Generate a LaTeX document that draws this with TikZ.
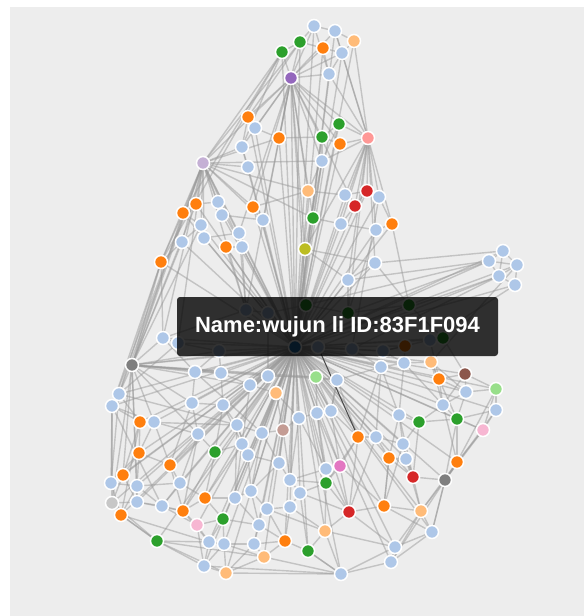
\documentclass[tikz,border=0pt]{standalone}
\usepackage{fontspec}
\setmainfont{Liberation Sans}
\definecolor{lb}{HTML}{AEC7E8}
\definecolor{or}{HTML}{FF7F0E}
\definecolor{lo}{HTML}{FFBB78}
\definecolor{gr}{HTML}{2CA02C}
\definecolor{lg}{HTML}{98DF8A}
\definecolor{rd}{HTML}{D62728}
\definecolor{lr}{HTML}{FF9896}
\definecolor{pu}{HTML}{9467BD}
\definecolor{lv}{HTML}{C5B0D5}
\definecolor{pk}{HTML}{F7B6D2}
\definecolor{mg}{HTML}{E377C2}
\definecolor{br}{HTML}{8C564B}
\definecolor{rb}{HTML}{C49C94}
\definecolor{gy}{HTML}{7F7F7F}
\definecolor{lgy}{HTML}{C7C7C7}
\definecolor{ol}{HTML}{BCBD22}
\definecolor{bl}{HTML}{1F77B4}
\definecolor{canvas}{HTML}{EDEDED}
\definecolor{wire}{HTML}{9A9A9A}
\pgfdeclarelayer{edges}
\pgfsetlayers{edges,main}
\begin{document}
\begin{tikzpicture}
[x=1pt,y=-1pt,
 dot/.style={circle,draw=white,line width=1.5pt,minimum size=13pt,inner sep=0pt},
 link/.style={draw=wire,opacity=0.5,line width=1.4pt}]
\useasboundingbox (0,0) rectangle (584,616);
%% the nodes
\node[dot,fill=bl] (hub) at (295,347) {};
\foreach \n/\x/\y/\c in {a1/314/26/lb, a2/335/31/lb, a3/354/41/lo, a4/300/42/gr,
  a5/323/48/or, a6/342/53/lb, a7/282/52/gr, a8/291/78/pu, a9/329/74/lb,
  a10/248/117/or, a11/255/128/lb, a12/279/138/or, a13/242/147/lb, a14/248/167/lb,
  a15/339/124/gr, a16/322/137/gr, a17/340/144/or, a18/368/138/lr, a19/322/161/lb,
  a20/203/163/lv}
  \node[dot,fill=\c] (\n) at (\x,\y) {};
\foreach \n/\x/\y/\c in {b1/308/191/lo, b2/345/195/lb, b3/367/191/rd, b4/379/197/lb,
  b5/355/206/rd, b6/313/218/gr, b7/341/224/lb, b8/376/230/lb, b9/392/224/or,
  b10/305/249/ol, b11/375/263/lb, b12/348/280/lb, b13/196/204/or, b14/183/213/or,
  b15/218/202/lb, b16/222/215/lb, b17/253/207/or, b18/263/220/lb, b19/201/225/lb,
  b20/182/242/lb, b21/204/238/lb, b22/239/233/lb, b23/226/247/or, b24/242/247/lb,
  b25/161/262/or}
  \node[dot,fill=\c] (\n) at (\x,\y) {};
\foreach \n/\x/\y/\c in {c1/503/251/lb, c2/489/261/lb, c3/517/265/lb, c4/499/276/lb,
  c5/515/285/lb}
  \node[dot,fill=\c] (\n) at (\x,\y) {};
\foreach \n/\x/\y/\c in {d1/246/310/lb, d2/268/313/lb, d3/306/305/gr, d4/348/313/gr,
  d5/409/305/gr, d6/443/338/gr, d7/405/346/or, d8/318/347/lb, d9/352/349/lb,
  d10/383/351/lb, d11/430/340/lb, d12/219/351/lb, d13/178/343/lb}
  \node[dot,fill=\c] (\n) at (\x,\y) {};
\foreach \n/\x/\y/\c in {e1/163/338/lb, e2/132/365/gy, e3/195/372/lb, e4/221/373/lb,
  e5/119/394/lb, e6/112/406/lb, e7/250/385/lb, e8/268/376/lb, e9/276/393/lo,
  e10/316/377/lg, e11/337/380/lb, e12/381/367/lb, e13/404/363/lb, e14/431/362/lo,
  e15/439/379/or, e16/465/374/br, e17/466/392/lb, e18/496/389/lg, e19/192/403/lb,
  e20/223/405/lb, e21/140/422/or, e22/154/422/lb, e23/237/425/lb, e24/198/434/lb,
  e25/262/433/lb, e26/283/430/rb, e27/299/418/lb, e28/317/413/lb, e29/331/411/lb,
  e30/443/405/lb, e31/496/410/lb, e32/399/415/lb, e33/419/422/gr, e34/457/419/gr,
  e35/483/430/pk, e36/358/437/or, e37/376/437/lb, e38/403/444/lb}
  \node[dot,fill=\c] (\n) at (\x,\y) {};
\foreach \n/\x/\y/\c in {f1/139/453/or, f2/215/452/gr, f3/242/444/lb, f4/248/455/lb,
  f5/170/465/or, f6/279/463/lb, f7/389/458/or, f8/406/459/lb, f9/457/462/or,
  f10/340/466/mg, f11/326/469/lb, f12/123/475/or, f13/111/483/lb, f14/137/486/lb,
  f15/180/483/lb, f16/290/480/lb, f17/326/483/gr, f18/413/477/rd, f19/445/480/gy,
  f20/300/493/lb, f21/251/491/lb, f22/112/503/lgy, f23/137/502/lb, f24/121/515/or,
  f25/162/506/lb, f26/183/511/or, f27/205/498/or, f28/235/498/lb, f29/197/525/pk,
  f30/223/519/gr, f31/267/509/lb, f32/290/507/lb, f33/259/525/lb, f34/349/512/rd,
  f35/384/506/or, f36/421/511/lo, f37/325/531/lo, f38/432/532/lb, f39/157/541/gr,
  f40/209/542/lb, f41/224/544/lb, f42/254/544/lb, f43/285/541/or, f44/308/551/gr,
  f45/264/557/lo, f46/204/566/lb, f47/226/573/lo, f48/341/574/lb, f49/395/547/lb,
  f50/391/562/lb}
  \node[dot,fill=\c] (\n) at (\x,\y) {};
\begin{pgfonlayer}{edges}
\fill[canvas] (10,7) rectangle (584,616);
%% the links of the selected node
\foreach \g/\k in {a/20,b/25,c/5,d/13,e/38,f/50} {
  \foreach \i in {1,...,\k} {\draw[link] (hub) -- (\g\i);}
}
%% upper part
\foreach \s/\t in {a1/a2, a1/a4, a2/a3, a2/a6, a3/a6, a4/a5, a4/a7, a5/a6, a5/a9,
  a7/a8, a4/a8, a6/a9, a3/a18, a6/a18, a9/a18, a15/a18, a16/a17, a17/a18, a15/a16,
  a16/a19, a10/a11, a10/a13, a11/a12, a12/a16, a13/a14, a13/a20, a14/a20, a7/a20,
  a7/b25, a4/a20, a7/a13, a4/a10, a7/b14, a2/a18, a1/a9,
  a8/a1, a8/a2, a8/a5, a8/a6, a8/a9, a8/a10, a8/a11, a8/a12, a8/a13, a8/a15,
  a8/a16, a8/a17, a8/a18, a8/a19, a8/b1, a8/b6, a8/b10, a8/b5, a8/a20, a8/b17,
  a8/d3, a8/d1, a8/b18, a8/b22,
  a20/b13, a20/b14, a20/b15, a20/b16, a20/b17, a20/b18, a20/b19, a20/b20, a20/b21,
  a20/b22, a20/b24, a20/b25, a20/e2, a20/e1, a20/b1, a20/a12, a20/a19, a20/d13,
  a20/e5, a20/d1, a20/b6,
  a18/b3, a18/b4, a18/b5, a18/b2, a18/b7, a18/b8, a18/b9, a18/b11, a18/b12, a18/b10,
  a18/d4, a18/a19, b9/d5, a19/b6, a19/b10, a15/b1}
  \draw[link] (\s) -- (\t);
\foreach \s/\t in {b1/b2, b2/b3, b3/b4, b3/b5, b5/b7, b4/b9, b8/b9, b6/b7, b7/b8,
  b10/b11, b11/b12, b10/b12, b13/b14, b13/b15, b15/b16, b14/b19, b16/b18, b17/b18,
  b19/b20, b19/b21, b21/b22, b22/b24, b23/b24, b20/b25, b25/e2, b25/e1, b23/d1,
  b24/d1, b22/d1, b14/b25, b13/e2, b17/b1, b12/d4, b11/d5, b8/d4, b4/d9,
  c1/c2, c1/c3, c2/c3, c2/c4, c3/c4, c4/c5, c3/c5, c1/c4, c2/d4, c2/b12, c4/d9,
  c5/d11, c1/b11, c3/e14, c2/d3, c4/d8}
  \draw[link] (\s) -- (\t);
%% lower part
\foreach \s/\t in {e1/d13, d13/d12, d12/e4, d1/d2, d2/d3, d3/d4, d4/d5, d5/d6,
  d6/d11, d11/d10, d10/d9, d9/d8, d7/d10, d7/e13, e1/e2, e1/e3, e3/e4, e3/e19,
  e4/e7, e4/e20, e5/e6, e5/e2, e6/e21, e6/f13, e7/e8, e7/e9, e8/e10, e9/e26,
  e10/e11, e11/e12, e12/e13, e13/e14, e14/e15, e15/e16, e16/e17, e17/e18, e18/e31,
  e17/e30, e30/e34, e31/e35, e34/e35, e33/e32, e32/e38, e33/e38, e36/e37, e37/e38,
  e36/f10, e38/f8, f7/f8, f8/f18, f18/f19, f19/f9, f9/e34, f19/f36, f36/f38,
  f38/f49, f49/f50, f50/f48, f48/f44, f48/f37, f37/f34, f34/f35, f35/f36, f35/f7,
  f34/f17, f17/f10, f10/f11, f11/e28, f16/f11, f16/f20, f20/f32, f32/f31, f31/f21,
  f21/f28, f28/f27, f27/f26, f26/f29, f29/f30, f30/f33, f33/f42, f42/f45, f45/f47,
  f47/f46, f46/f40, f40/f41, f41/f42, f40/f39, f39/f24, f24/f22, f22/f23, f23/f25,
  f25/f26, f23/f14, f14/f13, f13/f12, f12/f1, f1/e21, e21/e22, e22/e24, e24/e19,
  e24/f2, f2/f3, f3/f4, f4/e23, e23/e25, e25/e26, e26/e27, e27/e28, e28/e29,
  e29/e11, f5/f1, f5/f15, f15/f14, f15/f27, f6/f4, f6/f16, f6/f21, f43/f44,
  f43/f42, f44/f37, f43/f32}
  \draw[link] (\s) -- (\t);
\foreach \s/\t in {e2/f22, e2/f12, e5/f13, e21/f24, f22/f39, f39/f46, f46/f48,
  f47/f48, f48/f49, f39/f45, f24/f40, e6/f22, f50/f19, f38/f19, f49/f36, e35/f19,
  e18/f9, e31/f19, e2/e11, e2/d8, e5/e23, e6/f25, e21/e23, e3/e25, e16/e30,
  e14/e17, e15/e30, e30/e33, e33/e34, f9/f19, f18/f36, e35/f9, e2/e3, e2/d12,
  e2/e22, e2/e19, e2/e4, e1/d1, e19/f5, e20/f2, e24/f26, f2/f27, f3/f28, e25/f6,
  e26/f16, e27/f11, e29/f10, e37/f7, e32/f18, e12/e32, e13/e30, e14/e34, e16/e18,
  f12/f22, f1/f14, f29/f40, f30/f41, f33/f43, f31/f37, f20/f34, f17/f37, f10/f35,
  f11/f34, f36/f50, f38/f50, f45/f48, f41/f47, f14/f25, f13/f24, e22/f5, e20/e23,
  e7/f3, e9/e27, e10/e29, e11/e36, e12/e37, e28/f17, e15/e17, f7/f35, e38/f18,
  d12/e3, d13/e5, d2/e8, d11/e15, d6/e16, d10/e13, d9/e12, e34/f19, e30/f9}
  \draw[link] (\s) -- (\t);
\foreach \s/\t in {e2/e10, e2/e8, e2/e7, e2/f23, e2/f14, e2/e24, b25/e5, b25/e6,
  b20/e2, b14/e2, a20/e6, b19/e2, f5/f26, f5/e24, f15/f25, f26/f40, f27/f30,
  f28/f33, f21/f33, f31/f43, f32/f37, f16/f17, f20/f17, f20/f44, f37/f49, f34/f49,
  f35/f38, f7/f18, f8/f36, e38/f35, e37/f34, e36/f17, e36/f34, f10/f34, e33/f18,
  e32/f7, e29/e36, e28/f10, e27/f16, e26/f6, e25/f21, e23/f28, f4/f21, f3/f27,
  f2/f26, e24/f15, e22/f1, e21/f12, f12/f23, f14/f24, f25/f29, f29/f46, f30/f40,
  f41/f45, f42/f47, f43/f45, f44/f48, e19/e20, e20/f3, e23/f4, e9/e25, e10/e28,
  e11/e29, e12/e36, e13/e32, e14/e30, e17/e34, e18/e35, e31/e34, f9/f36, f19/f38,
  e6/e22, e5/e21, f1/f13, f22/f24, f23/f26, f24/f39, f39/f47, f46/f41}
  \draw[link] (\s) -- (\t);
\draw[draw=black!70,line width=1.1pt] (d8) -- (e36);
\end{pgfonlayer}
%% the tooltip
\fill[black,opacity=0.8,rounded corners=3pt] (177,297) rectangle (498,356);
\node[text=white,font=\bfseries\fontsize{22}{26}\selectfont] (tip) at (337.5,326.5)
  {Name:wujun li ID:83F1F094};
\end{tikzpicture}
\end{document}
